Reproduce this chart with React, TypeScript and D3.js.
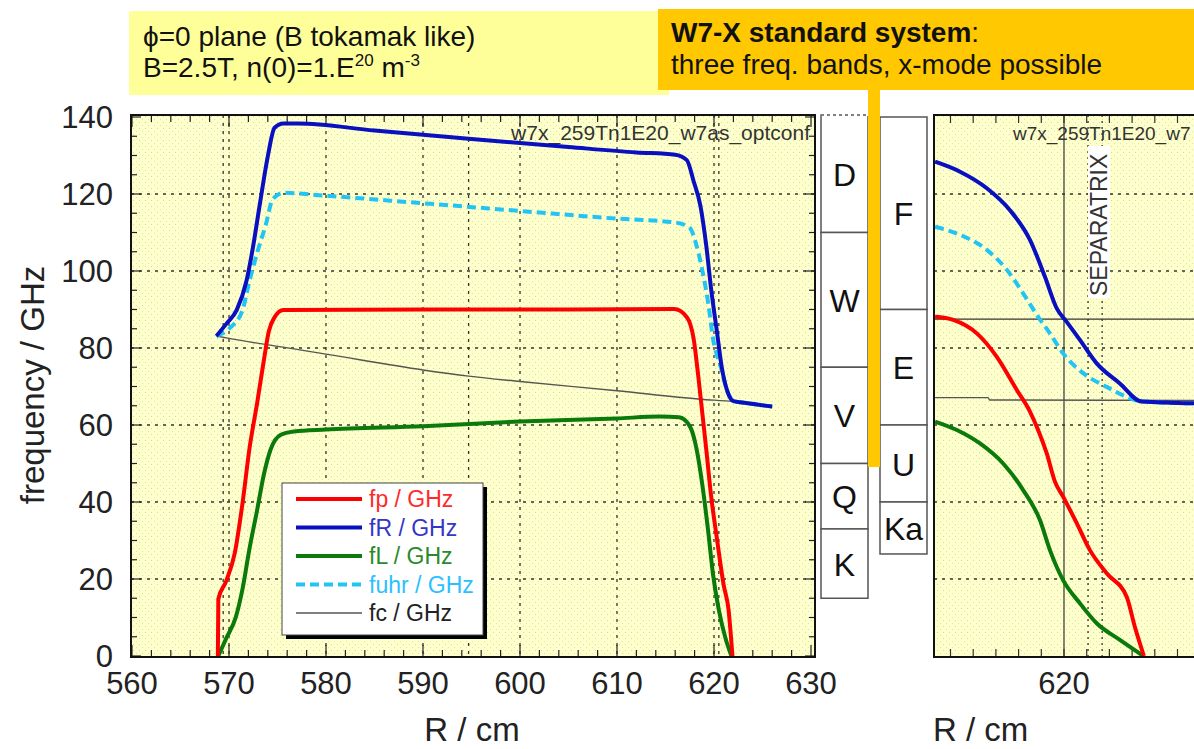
import React from 'react'
import * as d3 from 'd3'

// left panel: frequency vs R (cm)
const fpLeft: [number, number][] = [[568.85,0],[568.9,14.8],[569.7,19.4],[570.6,26.8],[571.4,39.8],[572.1,53.7],[572.9,65.7],[573.6,76.9],[574.1,84.3],[574.7,88],[575.6,89.9],[590,90],[605,90],[615.9,90.1],[617.2,88],[617.9,82.4],[618.4,72.2],[618.8,63],[619.2,53.7],[619.7,41.6],[620.3,30.5],[621,18.4],[621.5,12],[621.9,0]]
const fRLeft: [number, number][] = [[568.7,83.1],[569.7,86.2],[570.8,89.9],[571.8,97.4],[572.5,106.6],[573.2,117.7],[574,129.8],[574.7,137.2],[575.6,138.3],[577.1,138.3],[585,136.5],[595,134.3],[605,132.2],[612,130.8],[616,130.2],[617.2,128.8],[617.9,123.3],[618.6,116.9],[619.2,106.6],[619.7,95.4],[620.3,84.3],[620.8,75],[621.4,68.6],[622,66.2],[623.3,65.7],[626,64.8]]
const fuhrLeft: [number, number][] = [[568.7,83.1],[570.1,85.2],[571.4,89.9],[572.1,97.3],[572.9,104.7],[573.8,112.1],[574.5,118.6],[575.6,120.3],[579.7,119.6],[590,117.6],[600,115.6],[610,113.6],[616,112.6],[617.5,111.2],[618.2,106.6],[618.8,100.1],[619.4,91.7],[619.9,82.4],[620.7,75],[621.4,68.6],[622.1,66.2],[623.3,65.7],[626,64.8]]
const fLLeft: [number, number][] = [[568.9,0],[569.7,4.5],[570.7,10.1],[571.4,17.5],[572.1,27.7],[572.9,37.9],[573.6,47.2],[574.3,53.7],[575.3,57.4],[576.7,58.3],[580,58.8],[590,59.7],[600,60.9],[610,61.7],[614.4,62.2],[616.4,62],[617.5,59.7],[618.2,53.8],[618.8,44.4],[619.4,32.4],[619.9,21.2],[620.5,11.9],[621.2,4.5],[621.8,0]]
const fcLeft: [number, number][] = [[568.7,83.1],[570,82.5],[577.3,79.5],[580,78.4],[590,74.3],[594.7,72.7],[600,71.3],[610,68.9],[618.6,66.7],[622,66.1],[626,64.8]]

// right panel (zoom around the edge)
const fRRight: [number, number][] = [[617.16,128.4],[617.71,125.8],[618.3,121.5],[618.81,115.8],[619.25,108.1],[619.58,98.5],[619.84,90.3],[620.06,86.8],[620.35,82.1],[620.72,76],[621.23,70.8],[621.71,66.1],[623,65.6]]
const fuhrRight: [number, number][] = [[617.16,111.5],[617.71,109.4],[618.3,105.5],[618.74,100.3],[619.1,94.2],[619.43,88.1],[619.69,83.8],[619.98,78.6],[620.43,73.4],[620.94,69.9],[621.38,67.3],[621.71,66.1],[623,65.6]]
const fpRight: [number, number][] = [[617.16,88.1],[617.56,87.3],[618.08,83.8],[618.52,77.7],[618.96,69.1],[619.25,63.5],[619.43,58.7],[619.62,52.6],[619.8,45.3],[619.98,41.4],[620.28,34.5],[620.57,27.5],[620.94,21.5],[621.38,15.4],[621.56,7.6],[621.76,0]]
const fLRight: [number, number][] = [[617.16,60.9],[617.64,58.7],[618.15,55.2],[618.66,50],[619.1,43.1],[619.47,35.3],[619.69,27.5],[619.98,19.7],[620.35,13.7],[620.72,8.5],[621.23,4.2],[621.75,0]]
const fcRight: [number, number][] = [[617.16,67.1],[618.33,67.1],[618.36,66.5],[623,66.4]]

const yTicks = [0, 20, 40, 60, 80, 100, 120, 140]
const xTicksLeft = [560, 570, 580, 590, 600, 610, 620, 630]
const leftMarkers = [569.4, 594.7, 620.5]
const rightMarkers = [620.53, 620.84]
const rightHLine = 87.5

const leftBands = [
  { name: 'D', lo: 110, hi: 140.5 },
  { name: 'W', lo: 75, hi: 110 },
  { name: 'V', lo: 50, hi: 75 },
  { name: 'Q', lo: 33, hi: 50 },
  { name: 'K', lo: 15, hi: 33 },
]
const rightBands = [
  { name: 'F', lo: 90, hi: 140 },
  { name: 'E', lo: 60, hi: 90 },
  { name: 'U', lo: 40, hi: 60 },
  { name: 'Ka', lo: 26.5, hi: 40 },
]

const series = [
  { label: 'fc / GHz', color: '#555555', text: '#222222', width: 1.4, dash: null, left: fcLeft, right: fcRight },
  { label: 'fL / GHz', color: '#0a7a0a', text: '#2a8a2a', width: 4, dash: null, left: fLLeft, right: fLRight },
  { label: 'fp / GHz', color: '#ff0000', text: '#ff2a2a', width: 4, dash: null, left: fpLeft, right: fpRight },
  { label: 'fuhr / GHz', color: '#22c4f4', text: '#2cc0ff', width: 4, dash: '9,5', left: fuhrLeft, right: fuhrRight },
  { label: 'fR / GHz', color: '#0a10c0', text: '#3535c8', width: 4, dash: null, left: fRLeft, right: fRRight },
]
const legendOrder = ['fp / GHz', 'fR / GHz', 'fL / GHz', 'fuhr / GHz', 'fc / GHz']

const FONT = '"Liberation Sans", Arial, sans-serif'

export default function App() {
  const x = d3.scaleLinear().domain([560, 630]).range([132, 811])
  const y = d3.scaleLinear().domain([0, 140]).range([656, 117])
  const xr = d3.scaleLinear().domain([620, 621]).range([1064, 1109.4])

  const L = { x0: 131, x1: 815, y0: 115, y1: 657 }
  const R = { x0: 934, x1: 1205, y0: 115, y1: 657 }

  const lineL = d3.line<[number, number]>().x(d => x(d[0])).y(d => y(d[1])).curve(d3.curveMonotoneX)
  const lineR = d3.line<[number, number]>().x(d => xr(d[0])).y(d => y(d[1])).curve(d3.curveMonotoneX)

  const minorY = d3.range(0, 141, 5)
  const minorX = d3.range(560, 631, 2)
  const minorXR = d3.range(617.5, 623.1, 0.5)

  return (
    <svg width={1194} height={749} style={{ position: 'absolute', left: 0, top: 0, fontFamily: FONT }}>
      <defs>
        <pattern id="speck" width="6" height="6" patternUnits="userSpaceOnUse">
          <rect width="6" height="6" fill="#ffffcc" />
          <rect x="1" y="2" width="1" height="1" fill="#c4e2a8" />
          <rect x="4" y="5" width="1" height="1" fill="#d2e8bc" />
        </pattern>
        <clipPath id="clipL"><rect x={L.x0} y={L.y0} width={L.x1 - L.x0} height={L.y1 - L.y0} /></clipPath>
        <clipPath id="clipR"><rect x={R.x0} y={R.y0} width={R.x1 - R.x0} height={R.y1 - R.y0} /></clipPath>
      </defs>
      <rect width={1194} height={749} fill="#fff" />

      {/* header boxes */}
      <rect x={129} y={11} width={540} height={84} fill="#ffff99" />
      <text x={143} y={46} fontSize={28} fill="#111">ϕ=0 plane (B tokamak like)</text>
      <text x={143} y={77} fontSize={28} fill="#111">
        B=2.5T, n(0)=1.E<tspan fontSize={17} dy={-11}>20</tspan><tspan dy={11}> m</tspan><tspan fontSize={17} dy={-11}>-3</tspan>
      </text>
      <rect x={658} y={9} width={536} height={81} fill="#ffc800" />
      <text x={671} y={42} fontSize={28} fill="#111"><tspan fontWeight="bold">W7-X standard system</tspan>:</text>
      <text x={671} y={74} fontSize={28} fill="#111">three freq. bands, x-mode possible</text>

      {/* left panel */}
      <rect x={L.x0} y={L.y0} width={L.x1 - L.x0} height={L.y1 - L.y0} fill="url(#speck)" />
      <g stroke="#333" strokeWidth={1.3} strokeDasharray="3,5">
        {yTicks.slice(1, -1).map(t => <line key={t} x1={L.x0} x2={L.x1} y1={y(t)} y2={y(t)} />)}
        {xTicksLeft.slice(1, -1).concat(leftMarkers).map(t => <line key={t} x1={x(t)} x2={x(t)} y1={L.y0} y2={L.y1} />)}
      </g>
      <g stroke="#222" strokeWidth={1.2}>
        {minorY.map(t => <g key={t}>
          <line x1={L.x0} x2={L.x0 + (t % 20 === 0 ? 10 : 6)} y1={y(t)} y2={y(t)} />
          <line x1={L.x1} x2={L.x1 - (t % 20 === 0 ? 10 : 6)} y1={y(t)} y2={y(t)} />
        </g>)}
        {minorX.map(t => <g key={t}>
          <line y1={L.y1} y2={L.y1 - (t % 10 === 0 ? 12 : 7)} x1={x(t)} x2={x(t)} />
          <line y1={L.y0} y2={L.y0 + (t % 10 === 0 ? 12 : 7)} x1={x(t)} x2={x(t)} />
        </g>)}
      </g>
      <text x={810} y={140} fontSize={21} textAnchor="end" fill="#333">w7x_259Tn1E20_w7as_optconf</text>
      <g clipPath="url(#clipL)" fill="none" strokeLinejoin="round">
        {series.map(s => <path key={s.label} d={lineL(s.left) || ''} stroke={s.color} strokeWidth={s.width} strokeDasharray={s.dash || undefined} />)}
      </g>
      <rect x={L.x0} y={L.y0} width={L.x1 - L.x0} height={L.y1 - L.y0} fill="none" stroke="#111" strokeWidth={2} />

      {/* legend */}
      <rect x={286} y={487} width={201} height={152} fill="#000" />
      <rect x={282} y={483} width={201} height={152} fill="#fff" stroke="#444" strokeWidth={1} />
      {legendOrder.map((lab, i) => {
        const s = series.find(d => d.label === lab)!
        const ly = 499 + i * 28.5
        return <g key={lab}>
          <line x1={296} x2={362} y1={ly} y2={ly} stroke={s.color} strokeWidth={s.width} strokeDasharray={s.dash || undefined} />
          <text x={369} y={ly + 8} fontSize={23} fill={s.text}>{lab}</text>
        </g>
      })}

      {/* axis labels left */}
      <g fontSize={31} fill="#222">
        {yTicks.map(t => <text key={t} x={113} y={y(t) + 11} textAnchor="end">{t}</text>)}
        {xTicksLeft.map(t => <text key={t} x={x(t)} y={694} textAnchor="middle">{t}</text>)}
      </g>
      <text x={472} y={741} fontSize={33} textAnchor="middle" fill="#222">R / cm</text>
      <text transform="translate(44,385) rotate(-90)" fontSize={33} textAnchor="middle" fill="#222">frequency / GHz</text>

      {/* frequency bands */}
      <g fontSize={32} fill="#111">
        {leftBands.map((b, i) => <g key={b.name}>
          <rect x={821} y={y(b.hi)} width={47} height={y(b.lo) - y(b.hi)} fill="#fff" stroke="#555" strokeWidth={1.5} />
          {i === 0 && <line x1={821} x2={868} y1={y(b.hi)} y2={y(b.hi)} stroke="#fff" strokeWidth={2} />}
          {i === 0 && <line x1={821} x2={868} y1={y(b.hi)} y2={y(b.hi)} stroke="#555" strokeWidth={1.5} strokeDasharray="3,3" />}
          <text x={844.5} y={(y(b.hi) + y(b.lo)) / 2 + 12} textAnchor="middle">{b.name}</text>
        </g>)}
        {rightBands.map(b => <g key={b.name}>
          <rect x={880} y={y(b.hi)} width={47} height={y(b.lo) - y(b.hi)} fill="#fff" stroke="#555" strokeWidth={1.5} />
          <text x={903.5} y={(y(b.hi) + y(b.lo)) / 2 + 12} textAnchor="middle">{b.name}</text>
        </g>)}
      </g>
      <rect x={868} y={88} width={12} height={379} fill="#ffc800" />

      {/* right panel */}
      <rect x={R.x0} y={R.y0} width={R.x1 - R.x0} height={R.y1 - R.y0} fill="url(#speck)" />
      <g stroke="#333" strokeWidth={1.3} strokeDasharray="3,5">
        {yTicks.slice(1, -1).map(t => <line key={t} x1={R.x0} x2={R.x1} y1={y(t)} y2={y(t)} />)}
        {rightMarkers.map(t => <line key={t} x1={xr(t)} x2={xr(t)} y1={R.y0} y2={R.y1} strokeDasharray="2,4" />)}
      </g>
      <g stroke="#333" strokeWidth={1.2}>
        <line x1={xr(620)} x2={xr(620)} y1={R.y0} y2={R.y1} />
        <line x1={R.x0} x2={R.x1} y1={y(rightHLine)} y2={y(rightHLine)} />
        {minorXR.map(t => <g key={t}>
          <line y1={R.y1} y2={R.y1 - 8} x1={xr(t)} x2={xr(t)} />
          <line y1={R.y0} y2={R.y0 + 8} x1={xr(t)} x2={xr(t)} />
        </g>)}
      </g>
      <text x={1013} y={140} fontSize={19} fill="#333">w7x_259Tn1E20_w7</text>
      <rect x={1088} y={146} width={22} height={152} fill="#fff" />
      <text transform="translate(1107,296) rotate(-90)" fontSize={23} fill="#333">SEPARATRIX</text>
      <g clipPath="url(#clipR)" fill="none" strokeLinejoin="round">
        {series.map(s => <path key={s.label} d={lineR(s.right) || ''} stroke={s.color} strokeWidth={s.width} strokeDasharray={s.dash || undefined} />)}
      </g>
      <rect x={R.x0} y={R.y0} width={R.x1 - R.x0} height={R.y1 - R.y0} fill="none" stroke="#111" strokeWidth={2} />
      <text x={xr(620)} y={694} fontSize={31} textAnchor="middle" fill="#222">620</text>
      <text x={933} y={741} fontSize={33} fill="#222">R / cm</text>
    </svg>
  )
}
